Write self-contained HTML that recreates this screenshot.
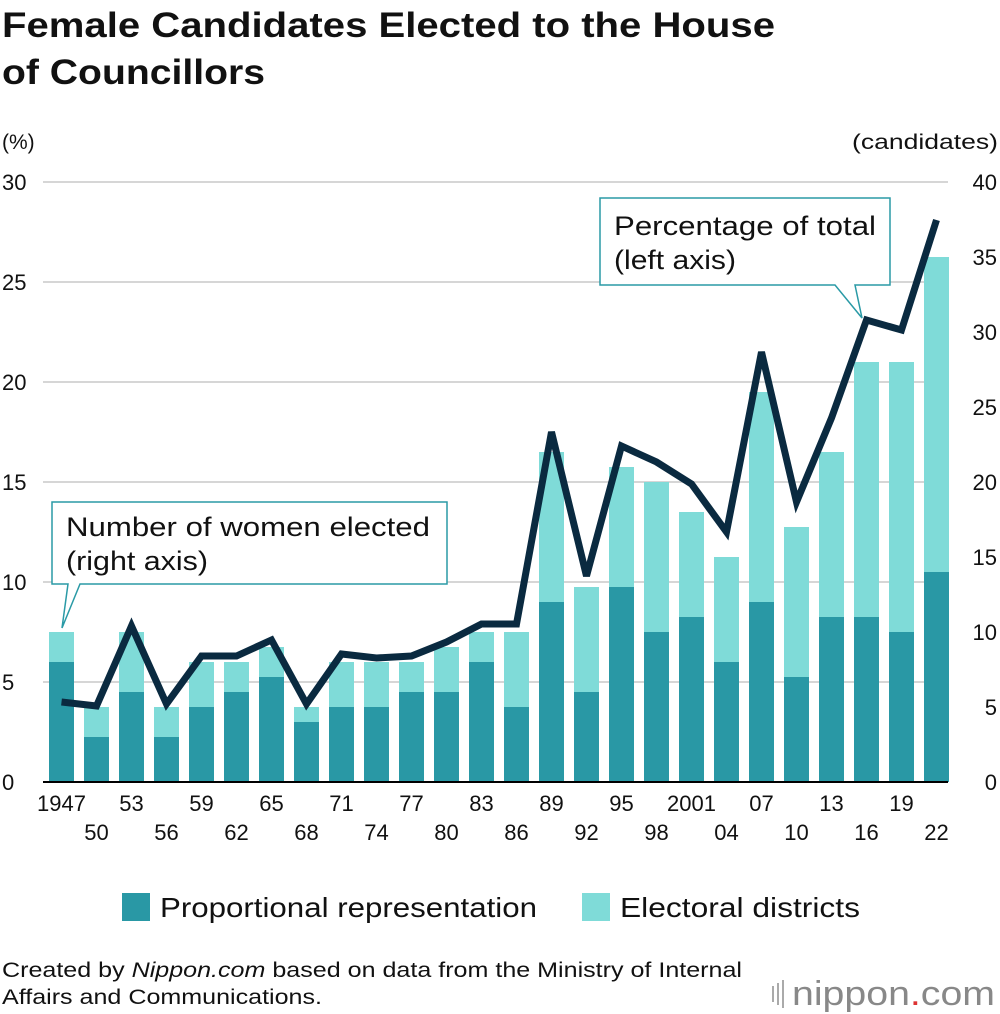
<!DOCTYPE html>
<html><head><meta charset="utf-8"><style>
body{margin:0;background:#fff;font-family:"Liberation Sans",Arial,sans-serif;}
#wrap{position:relative;width:1000px;height:1014px;overflow:hidden;}
</style></head><body>
<div id="wrap">
<svg id="chart" width="1000" height="1014" xmlns="http://www.w3.org/2000/svg" font-family="Liberation Sans, Arial, sans-serif">
<text x="2" y="37" font-size="35" font-weight="bold" fill="#111" textLength="773" lengthAdjust="spacingAndGlyphs">Female Candidates Elected to the House</text>
<text x="2" y="84" font-size="35" font-weight="bold" fill="#111" textLength="263" lengthAdjust="spacingAndGlyphs">of Councillors</text>
<text x="2" y="149" font-size="21" fill="#111">(%)</text>
<text x="998" y="149" font-size="21" fill="#111" text-anchor="end" textLength="146" lengthAdjust="spacingAndGlyphs">(candidates)</text>
<g id="grid"></g><g id="bars"></g><g id="line"></g><g id="axes"></g>
<g>
<path d="M600 198 H890 V285 H855 L862 318 L835 285 H600 Z" fill="#fff" stroke="#2a9aa6" stroke-width="1.5"/>
<text x="614" y="235" font-size="27" fill="#111" textLength="262" lengthAdjust="spacingAndGlyphs">Percentage of total</text>
<text x="614" y="269" font-size="27" fill="#111" textLength="122" lengthAdjust="spacingAndGlyphs">(left axis)</text>
</g>
<g>
<path d="M52 502 H447 V584 H80 L62 628 L68 584 H52 Z" fill="#fff" stroke="#2a9aa6" stroke-width="1.5"/>
<text x="66" y="536" font-size="27" fill="#111" textLength="364" lengthAdjust="spacingAndGlyphs">Number of women elected</text>
<text x="66" y="570" font-size="27" fill="#111" textLength="142" lengthAdjust="spacingAndGlyphs">(right axis)</text>
</g>
<g>
<rect x="122" y="893" width="28" height="28" fill="#2998a5"/>
<text x="160" y="917" font-size="28" fill="#111" textLength="377" lengthAdjust="spacingAndGlyphs">Proportional representation</text>
<rect x="582" y="893" width="28" height="28" fill="#7fdbd8"/>
<text x="620" y="917" font-size="28" fill="#111" textLength="240" lengthAdjust="spacingAndGlyphs">Electoral districts</text>
</g>
<text x="2" y="977" font-size="21" fill="#111" textLength="740" lengthAdjust="spacingAndGlyphs">Created by <tspan font-style="italic">Nippon.com</tspan> based on data from the Ministry of Internal</text>
<text x="2" y="1004" font-size="21" fill="#111" textLength="320" lengthAdjust="spacingAndGlyphs">Affairs and Communications.</text>
<g>
<rect x="772" y="986" width="2" height="16" fill="#aaa"/><rect x="777" y="983" width="2" height="22" fill="#aaa"/><rect x="782" y="980" width="2" height="28" fill="#aaa"/>
<text x="792" y="1005" font-size="34" fill="#888" textLength="203" lengthAdjust="spacingAndGlyphs">nippon<tspan fill="#d33">.</tspan>com</text>
</g>
</svg>
</div>
<script>
const years=["1947","50","53","56","59","62","65","68","71","74","77","80","83","86","89","92","95","98","2001","04","07","10","13","16","19","22"];
const proportional=[8,3,6,3,5,6,7,4,5,5,6,6,8,5,12,6,13,10,11,8,12,7,11,11,10,14];
const total=[10,5,10,5,8,8,9,5,8,8,8,9,10,10,22,13,21,20,18,15,26,17,22,28,28,35];
const percent=[4.0,3.8,7.8,3.9,6.3,6.3,7.1,3.9,6.4,6.2,6.3,7.0,7.9,7.9,17.5,10.3,16.8,16.0,14.9,12.5,21.5,14.0,18.2,23.1,22.6,28.1];
const leftTicks=[0,5,10,15,20,25,30];
const rightTicks=[0,5,10,15,20,25,30,35,40];
const NS="http://www.w3.org/2000/svg";
const x0=43,x1=948,yBase=782,yTop=182;
const xC=i=>61.5+i*35;
const yL=v=>yBase-(v/30)*(yBase-yTop);
const yR=v=>yBase-(v/40)*(yBase-yTop);
function mk(tag,attrs,parent){const e=document.createElementNS(NS,tag);for(const k in attrs)e.setAttribute(k,attrs[k]);parent.appendChild(e);return e;}
const grid=document.getElementById('grid'),bars=document.getElementById('bars'),line=document.getElementById('line'),axes=document.getElementById('axes');
leftTicks.forEach(t=>{if(t>0){const g=mk('line',{x1:x0,x2:x1,y1:yL(t),y2:yL(t),stroke:'#c8c8c8','stroke-width':1.5},grid);

}
const tx=mk('text',{x:2,y:yL(t)+8,'font-size':22,fill:'#111'},axes);tx.textContent=t;

});
rightTicks.forEach(t=>{const tx=mk('text',{x:997,y:yR(t)+8,'font-size':22,fill:'#111','text-anchor':'end'},axes);tx.textContent=t;

});
years.forEach((yr,i)=>{const w=25,x=xC(i)-w/2;
const d=mk('rect',{x:x,y:yR(total[i]),width:w,height:yR(proportional[i])-yR(total[i]),fill:'#7fdbd8'},bars);


const p=mk('rect',{x:x,y:yR(proportional[i]),width:w,height:yBase-yR(proportional[i]),fill:'#2998a5'},bars);


const tx=mk('text',{x:xC(i),y:i%2?840:811,'font-size':22,fill:'#111','text-anchor':'middle'},axes);tx.textContent=yr;

});
const ax=mk('line',{x1:x0,x2:x1,y1:yBase,y2:yBase,stroke:'#000','stroke-width':2},axes);


const pl=mk('polyline',{points:percent.map((v,i)=>xC(i)+','+yL(v)).join(' '),fill:'none',stroke:'#0a2a40','stroke-width':7,'stroke-linejoin':'miter'},line);


</script>
</body></html>
